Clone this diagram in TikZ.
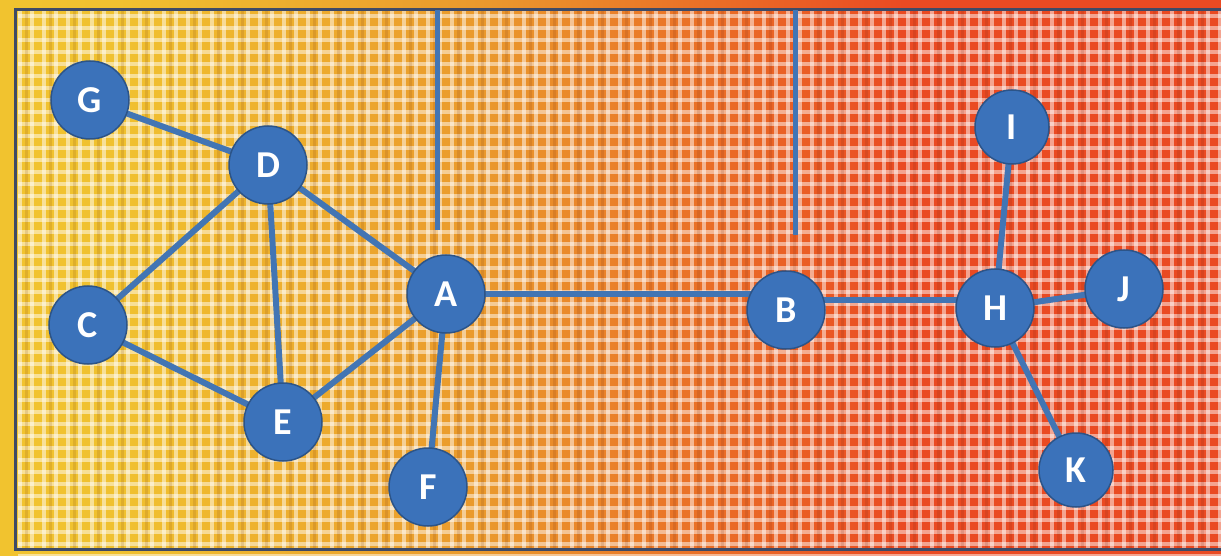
\documentclass[tikz,border=0pt]{standalone}
\usepackage{fontspec}
\setmainfont{Carlito}
\definecolor{ylw}{HTML}{F3D230}
\definecolor{org}{HTML}{EA982C}
\definecolor{rd}{HTML}{EA4A22}
\definecolor{nodefill}{HTML}{3B72BA}
\definecolor{nodeedge}{HTML}{2C5488}
\definecolor{edgeblue}{HTML}{4275B4}
\definecolor{frame}{HTML}{3E4A66}
\pgfdeclarehorizontalshading{bgshade}{100bp}{color(0bp)=(ylw); color(30bp)=(ylw!70!org); color(45bp)=(org); color(62bp)=(rd); color(100bp)=(rd)}
\pgfdeclarelayer{bglayer}
\pgfdeclarelayer{edgelayer}
\pgfsetlayers{bglayer,edgelayer,main}
\tikzset{
  vtx/.style={circle, fill=nodefill, draw=nodeedge, line width=1.5pt, minimum size=78pt, inner sep=0pt, text=white, font=\fontsize{38}{42}\selectfont\bfseries},
  smallvtx/.style={vtx, minimum size=74pt},
  link/.style={draw=edgeblue, line width=6pt},
}
\begin{document}
\begin{tikzpicture}[x=1pt,y=-1pt]
\useasboundingbox (0,0) rectangle (1221,556);
\begin{pgfonlayer}{bglayer}
\shade[shading=bgshade] (0,0) rectangle (1221,556);
\foreach \i in {0,...,100} {
  \draw[white, opacity=0.5, line width=4.5pt] ({20+\i*12},10) -- ({20+\i*12},550);
}
\foreach \j in {0,...,45} {
  \draw[white, opacity=0.5, line width=4.5pt] (18,{16+\j*12}) -- (1221,{16+\j*12});
}
\foreach \i in {0,...,50} {
  \draw[black!60!rd, opacity=0.12, line width=3pt] ({26+\i*24},10) -- ({26+\i*24},550);
}
\draw[frame, line width=3pt] (1230,10) -- (15,10) -- (15,549) -- (1230,549);
\end{pgfonlayer}
% nodes
\node[vtx] (G) at (90,100) {G};
\node[vtx] (D) at (268,165) {D};
\node[vtx] (C) at (88,325) {C};
\node[vtx] (E) at (283,422) {E};
\node[vtx] (A) at (446,294) {A};
\node[vtx] (F) at (428,487) {F};
\node[vtx] (B) at (786,310) {B};
\node[vtx] (H) at (995,308) {H};
\node[smallvtx] (I) at (1012,127) {I};
\node[vtx] (J) at (1124,289) {J};
\node[smallvtx] (K) at (1076,470) {K};
% vertical lines from top
\coordinate (t1) at (437,10);
\coordinate (b1) at (437,230);
\coordinate (t2) at (795,10);
\coordinate (b2) at (795,235);
\begin{pgfonlayer}{edgelayer}
\draw[link, line width=5pt] (t1) -- (b1);
\draw[link, line width=5pt] (t2) -- (b2);
\foreach \a/\b in {G/D, D/C, D/E, D/A, C/E, E/A, A/F, H/I, H/J, H/K} {
  \draw[link] (\a.center) -- (\b.center);
}
\draw[link] (A.center) -- (A.center -| B.center);
\draw[link] ([yshift=10pt]B.center) -- ([yshift=8pt]H.center);
\end{pgfonlayer}
\end{tikzpicture}
\end{document}
